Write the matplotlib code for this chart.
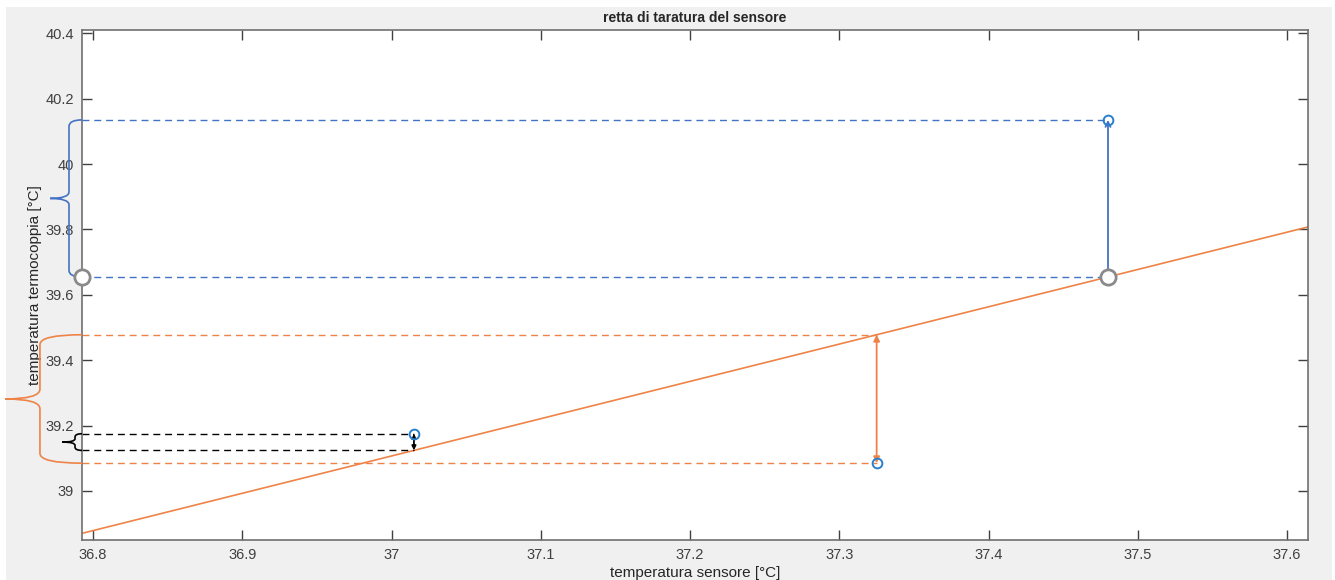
import numpy as np
import matplotlib
matplotlib.use("Agg")
import matplotlib.pyplot as plt
from matplotlib.path import Path
from matplotlib.patches import PathPatch, Rectangle
import matplotlib.transforms as mtransforms

plt.rcParams['font.family'] = ['Liberation Sans', 'DejaVu Sans']

# measured points (sensor temp vs thermocouple temp)
x_meas = [37.015, 37.325, 37.48]
y_meas = [39.175, 39.085, 40.135]

# calibration line y = a*x + b
fit_slope = 1.141
fit_icept = -3.110

x_lim = (36.7926, 37.614)
y_lim = (38.85, 40.41)
x_ticks = [36.8, 36.9, 37.0, 37.1, 37.2, 37.3, 37.4, 37.5, 37.6]
x_labels = ["36.8", "36.9", "37", "37.1", "37.2", "37.3", "37.4", "37.5", "37.6"]
y_ticks = [39.0, 39.2, 39.4, 39.6, 39.8, 40.0, 40.2, 40.4]
y_labels = ["39", "39.2", "39.4", "39.6", "39.8", "40", "40.2", "40.4"]

c_blue = '#2a7fcc'
c_blue_ln = '#4472c4'
c_orange = '#ee8348'
c_grey = '#8a8a8a'

fig = plt.figure(figsize=(13.35, 5.8), dpi=100)
fig.patch.set_facecolor('white')
fig.patches.append(Rectangle((6 / 1335, 0), 1326 / 1335, 573 / 580,
                             transform=fig.transFigure, facecolor='#f0f0f0',
                             edgecolor='none', zorder=-10))
ax = fig.add_axes([82 / 1335, 40 / 580, 1226 / 1335, 510 / 580])
ax.set_facecolor('white')

def fit(x):
    return fit_slope * x + fit_icept

# calibration line across the whole axis
xx = np.array(x_lim)
ax.plot(xx, fit(xx), color=c_orange, lw=1.2, zorder=2)

x0 = x_lim[0]
dash = (0, (5, 3.5))

# point 3 (blue): residual above line
y_fit3 = fit(x_meas[2])
ax.plot([x0, x_meas[2]], [y_meas[2], y_meas[2]], color=c_blue_ln, lw=1, linestyle=dash)
ax.plot([x0, x_meas[2]], [y_fit3, y_fit3], color=c_blue_ln, lw=1, linestyle=dash)
ax.annotate('', xy=(x_meas[2], y_meas[2]), xytext=(x_meas[2], y_fit3),
            arrowprops=dict(arrowstyle='->', color=c_blue_ln, lw=1.3, mutation_scale=9,
                            shrinkA=0, shrinkB=0))

# point 2 (orange): residual below line
y_fit2 = fit(x_meas[1])
ax.plot([x0, x_meas[1]], [y_meas[1], y_meas[1]], color=c_orange, lw=1, linestyle=dash)
ax.plot([x0, x_meas[1]], [y_fit2, y_fit2], color=c_orange, lw=1, linestyle=dash)
ax.annotate('', xy=(x_meas[1], y_meas[1]), xytext=(x_meas[1], y_fit2),
            arrowprops=dict(arrowstyle='<|-|>', color=c_orange, lw=1.3, mutation_scale=9,
                            shrinkA=0, shrinkB=0))

# point 1 (black): small residual
y_fit1 = fit(x_meas[0])
ax.plot([x0, x_meas[0]], [y_meas[0], y_meas[0]], color='black', lw=1, linestyle=dash)
ax.plot([x0, x_meas[0]], [y_fit1, y_fit1], color='black', lw=1, linestyle=dash)
ax.annotate('', xy=(x_meas[0], y_meas[0]), xytext=(x_meas[0], y_fit1),
            arrowprops=dict(arrowstyle='<|-|>', color='black', lw=1.3, mutation_scale=6,
                            shrinkA=0, shrinkB=0))

# measured points
ax.plot(x_meas, y_meas, 'o', color=c_blue, mfc='none', ms=7, mew=1.4, zorder=4)

# grey reference circles
ax.plot([x0, x_meas[2]], [y_fit3, y_fit3], 'o', color=c_grey, mfc='white', ms=11,
        mew=2, zorder=5, clip_on=False)

# braces outside the axis (x in axes fraction, y in data)
trans = mtransforms.blended_transform_factory(ax.transAxes, ax.transData)

def brace(y_top, y_bot, xv, xtip, color, r=0.02, x_end=0.0):
    ym = (y_top + y_bot) / 2
    verts = [(x_end, y_top), (xv, y_top), (xv, y_top - r),
             (xv, ym + r), (xv, ym), (xtip, ym),
             (xv, ym), (xv, ym - r),
             (xv, y_bot + r), (xv, y_bot), (x_end, y_bot)]
    codes = [Path.MOVETO, Path.CURVE3, Path.CURVE3,
             Path.LINETO, Path.CURVE3, Path.CURVE3,
             Path.CURVE3, Path.CURVE3,
             Path.LINETO, Path.CURVE3, Path.CURVE3]
    ax.add_patch(PathPatch(Path(verts, codes), transform=trans, facecolor='none',
                           edgecolor=color, lw=1.2, clip_on=False, zorder=3))

brace(y_meas[2], y_fit3, -0.0106, -0.026, c_blue_ln, r=0.02)
brace(y_fit2, y_meas[1], -0.0343, -0.0628, c_orange, r=0.03)
brace(y_meas[0], y_fit1, -0.0057, -0.016, 'black', r=0.01)

ax.set_xlim(x_lim)
ax.set_ylim(y_lim)
ax.set_xticks(x_ticks)
ax.set_xticklabels(x_labels)
ax.set_yticks(y_ticks)
ax.set_yticklabels(y_labels)
ax.tick_params(direction='in', length=7, width=1, colors='#404040', labelsize=10.5,
               top=True, right=True, pad=6)
for s in ax.spines.values():
    s.set_color('#707070')
    s.set_linewidth(1.2)

ax.set_title('retta di taratura del sensore', fontsize=10, fontweight='bold',
             color='#262626', pad=6)
ax.set_xlabel('temperatura sensore [°C]', fontsize=11, color='#262626', labelpad=3)
ax.set_ylabel('temperatura termocoppia [°C]', fontsize=11, color='#262626', labelpad=2)

fig.savefig('out.png', dpi=100)
